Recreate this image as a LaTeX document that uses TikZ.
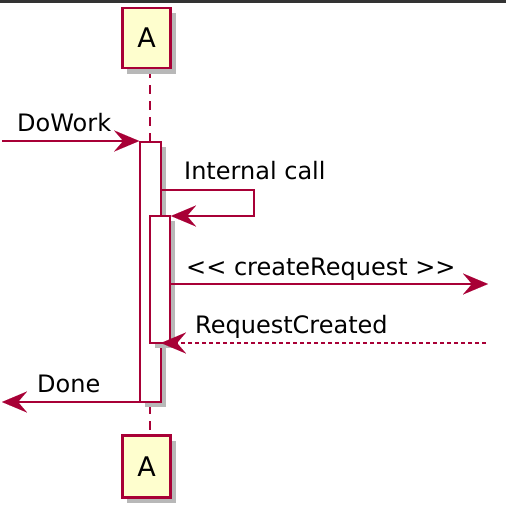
\documentclass[tikz,border=0pt]{standalone}
\usepackage{fontspec}
\newfontfamily\dv{DejaVu Sans}
\usetikzlibrary{arrows.meta}
\definecolor{crim}{HTML}{A80036}
\definecolor{pfill}{HTML}{FEFECE}
\definecolor{topbar}{HTML}{333333}
\tikzset{
  part/.style={draw=crim, fill=pfill, line width=2.6pt, minimum width=48pt, minimum height=60pt, inner sep=0pt, font=\dv\fontsize{27}{30}\selectfont},
  pshadow/.style={fill=black!28, draw=none},
  actbar/.style={draw=crim, fill=white, line width=1.6pt, inner sep=0pt},
  life/.style={draw=crim, line width=1.5pt, dash pattern=on 9pt off 7pt},
  tipx/.tip={Stealth[length=25pt,width=21pt,inset=9pt,line width=0.01pt]},
  msg/.style={draw=crim, line width=2pt, -tipx},
  ret/.style={draw=crim, line width=2pt, dash pattern=on 4pt off 3pt, -tipx},
  lbl/.style={font=\dv\fontsize{24}{28}\selectfont, anchor=base west, inner sep=0pt, text=black},
}
\begin{document}
\begin{tikzpicture}[x=1pt,y=-1pt]
\useasboundingbox (0,0) rectangle (506,514);
\fill[topbar] (0,0) rectangle (506,2.5);
% lifeline
\coordinate (lt) at (150,69);
\coordinate (lb) at (150,435);
\draw[life] (lt) -- (lb);
% participants shadows
\fill[pshadow] (127,13) rectangle (176,74);
\fill[pshadow] (127,441) rectangle (176,503);
\node[part, minimum height=60pt] (Atop) at (146.5,38) {A};
\node[part, minimum height=62pt] (Abot) at (146.5,466.5) {A};
% activation bars
\fill[pshadow] (145,147) rectangle (166,407);
\node[actbar, minimum width=21pt, minimum height=260pt] (bar1) at (150.5,272) {};
\fill[pshadow] (155,221) rectangle (175,348);
\node[actbar, minimum width=20pt, minimum height=127pt] (bar2) at (160,279.5) {};
% messages
\coordinate (inL) at (2,141);
\coordinate (c1) at (161,190);
\coordinate (c2) at (254,190);
\coordinate (c3) at (254,216);
\coordinate (c4) at (171,216);
\coordinate (outR) at (488,284);
\coordinate (c5) at (171,284);
\coordinate (retR) at (486,343);
\coordinate (retL) at (161,343);
\coordinate (doneL) at (2,402);
\coordinate (doneR) at (140,402);
\draw[msg] (inL) -- (bar1.north west |- inL);
\draw[msg] (c1) -- (c2) -- (c3) -- (c4);
\draw[msg] (c5) -- (outR);
\draw[ret] (retR) -- (retL);
\draw[msg] (doneR) -- (doneL);
\node[lbl] (t1) at (17,131.5) {DoWork};
\node[lbl] (t2) at (184,179.5) {Internal call};
\node[lbl] (t3) at (186,275) {<< createRequest >>};
\node[lbl] (t4) at (195,333) {RequestCreated};
\node[lbl] (t5) at (37,392) {Done};
\end{tikzpicture}
\end{document}
